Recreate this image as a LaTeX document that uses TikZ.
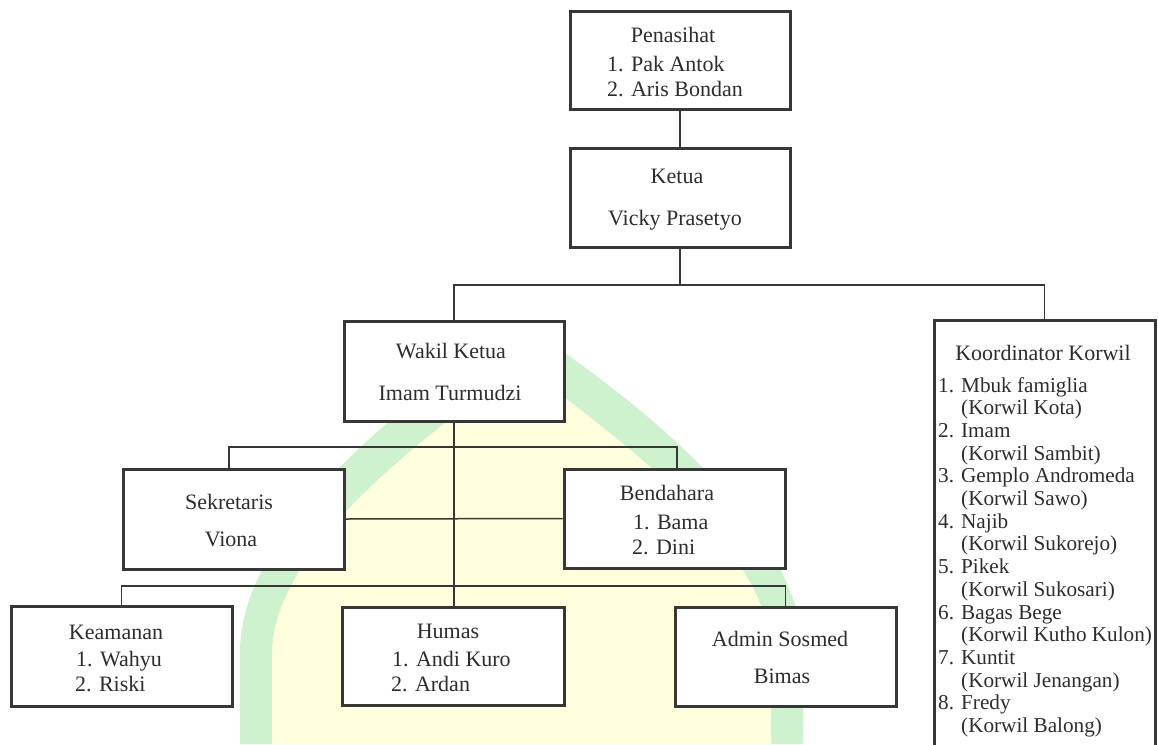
\documentclass[tikz,border=0pt]{standalone}
\usepackage{fontspec}
\setmainfont{Liberation Serif}
\newfontfamily\timesfont{Liberation Serif}
\definecolor{wmgreen}{RGB}{206,242,206}
\definecolor{wmyellow}{RGB}{255,255,222}
\definecolor{ink}{RGB}{45,45,45}
\definecolor{edge}{RGB}{55,55,55}
\tikzset{
  box/.style={draw=edge, line width=3pt, fill=white, inner sep=0pt},
  txt/.style={font=\timesfont\fontsize{22}{23}\selectfont, text=ink, inner sep=0pt},
  ltxt/.style={font=\timesfont\fontsize{21.2}{23}\selectfont, text=ink, inner sep=0pt},
  link/.style={draw=edge, line width=1.5pt}
}
\begin{document}
\begin{tikzpicture}[x=1pt,y=-1pt]
\useasboundingbox (0,0) rectangle (1158,744);
% watermark
\fill[wmgreen] (240,744) -- (240,650) .. controls (242,520) and (427,385) .. (521,323)
  .. controls (615,385) and (800,520) .. (803,650) -- (803,744) -- cycle;
\fill[wmyellow] (272,744) -- (272,652) .. controls (275,540) and (440,428) .. (521,364)
  .. controls (602,428) and (768,540) .. (771,652) -- (771,744) -- cycle;

% boxes
\node[box, minimum width=220pt, minimum height=98pt] (pen) at (680,60) {};
\node[box, minimum width=220pt, minimum height=99pt] (ket) at (680,197.5) {};
\node[box, minimum width=220pt, minimum height=100pt] (wak) at (454,371) {};
\node[box, minimum width=221pt, minimum height=100pt] (sek) at (233.5,519) {};
\node[box, minimum width=221pt, minimum height=99pt] (ben) at (674.5,518.5) {};
\node[box, minimum width=221pt, minimum height=100pt] (kea) at (121.5,656) {};
\node[box, minimum width=222pt, minimum height=98pt] (hum) at (453,656) {};
\node[box, minimum width=221pt, minimum height=99pt] (adm) at (785.5,656.5) {};
\node[box, minimum width=221pt, minimum height=450pt] (kor) at (1044.5,545) {};

% connectors
\coordinate (j1) at (680,285);
\coordinate (j2) at (454,447);
\coordinate (j3) at (454,586);
\draw[link] (pen.south) -- (ket.north);
\draw[link] (ket.south) -- (j1);
\draw[link] (wak.north) |- (j1) -| (kor.north);
\draw[link] (wak.south) -- (wak.south |- hum.north);
\draw[link] (sek.north -| 229,0) |- (j2) -| (ben.north -| 677,0);
\draw[link] (sek.east) -- (ben.west);
\draw[link] (kea.north) |- (j3) -| (adm.north);

% texts
\node[txt, anchor=base] (t1) at (673,42) {Penasihat};
\node[txt, anchor=base west] (t2) at (607,71.5) {1. Pak Antok};
\node[txt, anchor=base west] (t3) at (607,96.5) {2. Aris Bondan};
\node[txt, anchor=base] (t4) at (677,183.5) {Ketua};
\node[txt, anchor=base] (t5) at (675,225.5) {Vicky Prasetyo};
\node[txt, anchor=base] (t6) at (451,358) {Wakil Ketua};
\node[txt, anchor=base] (t7) at (450,400.5) {Imam Turmudzi};
\node[txt, anchor=base] (t8) at (229,509.5) {Sekretaris};
\node[txt, anchor=base] (t9) at (231,546.5) {Viona};
\node[txt, anchor=base] (t10) at (667,500.5) {Bendahara};
\node[txt, anchor=base west] (t11) at (633,529.5) {1. Bama};
\node[txt, anchor=base west] (t12) at (632,554.5) {2. Dini};
\node[txt, anchor=base] (t13) at (116,639.5) {Keamanan};
\node[txt, anchor=base west] (t14) at (76,666.5) {1. Wahyu};
\node[txt, anchor=base west] (t15) at (75,691.5) {2. Riski};
\node[txt, anchor=base] (t16) at (448,638.5) {Humas};
\node[txt, anchor=base west] (t17) at (392,666.5) {1. Andi Kuro};
\node[txt, anchor=base west] (t18) at (391,691.5) {2. Ardan};
\node[txt, anchor=base] (t19) at (780,646.5) {Admin Sosmed};
\node[txt, anchor=base] (t20) at (782,683.5) {Bimas};
\node[txt, anchor=base] (t21) at (1043,360.5) {Koordinator Korwil};
\foreach \a/\b [count=\i from 0] in {1. Mbuk famiglia/Korwil Kota,2. Imam/Korwil Sambit,3. Gemplo Andromeda/Korwil Sawo,4. Najib/Korwil Sukorejo,5. Pikek/Korwil Sukosari,6. Bagas Bege/Korwil Kutho Kulon,7. Kuntit/Korwil Jenangan,8. Fredy/Korwil Balong}{
  \node[ltxt, anchor=base west] (kn\i) at (938,392+45.4*\i) {\a};
  \node[ltxt, anchor=base west] (kr\i) at (961,414.7+45.4*\i) {(\b)};
}
\end{tikzpicture}
\end{document}
